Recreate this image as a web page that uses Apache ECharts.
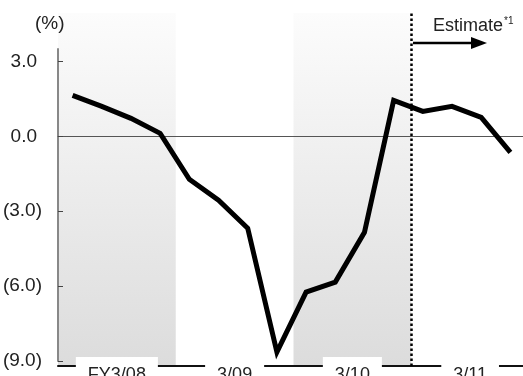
<!DOCTYPE html>
<html>
<head>
<meta charset="utf-8">
<script src="https://cdn.jsdelivr.net/npm/echarts@6/dist/echarts.min.js"></script>
<style>
  html, body { margin: 0; padding: 0; background: #fff; }
  #chart { width: 523px; height: 376px; }
</style>
</head>
<body>
<div id="chart"></div>
<script>
// quarters FY3/08 .. FY3/11 (4 per fiscal year)
var quarters = ['1Q/08', '2Q/08', '3Q/08', '4Q/08', '1Q/09', '2Q/09', '3Q/09', '4Q/09',
  '1Q/10', '2Q/10', '3Q/10', '4Q/10', '1Q/11', '2Q/11', '3Q/11', '4Q/11'];
var growth = [1.64, 1.2, 0.72, 0.12, -1.72, -2.56, -3.68, -8.64,
  -6.24, -5.84, -3.84, 1.44, 1.0, 1.2, 0.76, -0.64];
var fiscalYears = ['FY3/08', '3/09', '3/10', '3/11'];
var shaded = [1, 0, 1, 0]; // grey band behind FY3/08 and 3/10
var yTicks = [-9, -6, -3, 0, 3];
var estimateFrom = 3; // estimates start with 3/11 (fiscal year index)

var font = '"Liberation Sans Narrow", "Arial Narrow", "Liberation Sans", sans-serif';

function fmtPct(v) {
  if (v < 0) return '(' + Math.abs(v).toFixed(1) + ')';
  return '{p|' + v.toFixed(1) + '}';
}

var myChart = echarts.init(document.getElementById('chart'));
var option = {
  animation: false,
  title: {
    text: '(%)',
    left: 35,
    top: 14,
    padding: 0,
    textStyle: { fontFamily: font, fontSize: 19, fontWeight: 'normal', color: '#222' }
  },
  grid: [
    { left: 58, width: 467, top: 49, bottom: 15, outerBoundsMode: 'none' },
    { left: 58, width: 471, top: 13, bottom: 10, outerBoundsMode: 'none' }
  ],
  xAxis: [{
    type: 'category',
    gridIndex: 0,
    data: quarters,
    axisLine: { onZero: true, lineStyle: { color: '#555', width: 1 } },
    axisTick: { show: false },
    axisLabel: { show: false }
  }, {
    type: 'category',
    gridIndex: 1,
    data: fiscalYears,
    position: 'bottom',
    axisLine: { lineStyle: { color: '#111', width: 2 } },
    axisTick: {
      inside: true,
      length: 6,
      interval: function (i) { return i > 0; },
      lineStyle: { color: '#111', width: 2 }
    },
    axisLabel: {
      margin: -9,
      interval: 0,
      fontFamily: font,
      fontSize: 18,
      color: '#222',
      backgroundColor: '#fff',
      padding: [9, 12, 0, 12]
    },
    splitLine: { show: false }
  }, {
    // hidden numeric twin of the fiscal axis, used to place the estimate divider
    type: 'value',
    gridIndex: 1,
    min: 0,
    max: 4,
    show: false
  }],
  yAxis: [{
    type: 'value',
    gridIndex: 0,
    min: -9,
    max: 3.5,
    interval: 3,
    axisLine: { show: true, lineStyle: { color: '#888', width: 2 } },
    axisTick: { show: true, inside: true, length: 5, customValues: yTicks, lineStyle: { color: '#444', width: 1 } },
    axisLabel: {
      customValues: yTicks,
      margin: 16,
      fontFamily: font,
      fontSize: 19,
      color: '#222',
      formatter: fmtPct,
      rich: { p: { fontFamily: font, fontSize: 19, color: '#222', padding: [0, 5, 0, 0] } }
    },
    splitLine: { show: false }
  }, {
    type: 'value',
    gridIndex: 1,
    min: 0,
    max: 1,
    show: false
  }],
  series: [{
    name: 'shade',
    type: 'bar',
    xAxisIndex: 1,
    yAxisIndex: 1,
    data: shaded,
    barWidth: '100%',
    z: -1,
    silent: true,
    itemStyle: {
      color: new echarts.graphic.LinearGradient(0, 0, 0, 1, [
        { offset: 0, color: '#fcfcfc' },
        { offset: 1, color: '#dcdcdc' }
      ])
    }
  }, {
    name: 'divider',
    type: 'scatter',
    xAxisIndex: 2,
    yAxisIndex: 1,
    data: [[estimateFrom, 0]],
    symbolSize: 0,
    silent: true,
    markLine: {
      silent: true,
      symbol: 'none',
      label: { show: false },
      lineStyle: { color: '#000', width: 2.5, type: 'dotted' },
      data: [{ xAxis: estimateFrom }]
    }
  }, {
    name: 'growth',
    type: 'line',
    xAxisIndex: 0,
    yAxisIndex: 0,
    data: growth,
    symbol: 'none',
    z: 5,
    lineStyle: { color: '#000', width: 5, join: 'miter' }
  }],
  graphic: [{
    type: 'line',
    shape: { x1: 413, y1: 43, x2: 474, y2: 43 },
    style: { stroke: '#000', lineWidth: 2.5 }
  }, {
    type: 'polygon',
    shape: { points: [[471, 37], [487, 43], [471, 49]] },
    style: { fill: '#000' }
  }, {
    type: 'text',
    left: 433,
    top: 16,
    style: {
      text: 'Estimate{s|*1}',
      fontFamily: font,
      fontSize: 18,
      fill: '#222',
      rich: { s: { fontFamily: font, fontSize: 10, fill: '#222', padding: [0, 0, 10, 1] } }
    }
  }]
};
myChart.setOption(option);
</script>
</body>
</html>
